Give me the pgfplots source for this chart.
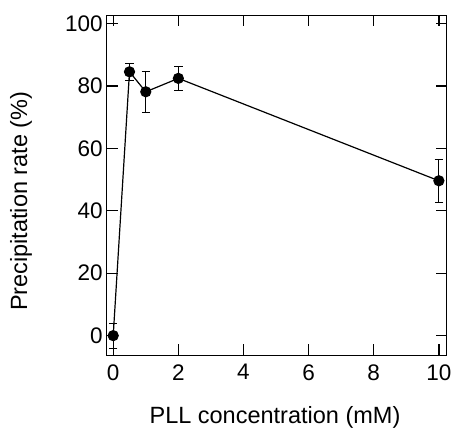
\documentclass[border=0pt]{standalone}
\usepackage{pgfplots}
\pgfplotsset{compat=1.18}
\usepackage{fontspec}
\setmainfont{Liberation Sans}
\begin{document}
\begin{tikzpicture}
\begin{axis}[
  scale only axis, width=340pt, height=340pt,
  xmin=-0.2, xmax=10.24, ymin=-6.3, ymax=102.6,
  xtick={0,2,4,6,8,10}, ytick={0,20,40,60,80,100},
  tick align=inside, major tick length=11pt,
  axis line style={line width=1.4pt},
  every tick/.style={black, line width=1.3pt},
  tick label style={font=\fontsize{22.5}{26}\selectfont},
  xticklabel style={yshift=-5.5pt},
  yticklabel style={xshift=-0.5pt},
  label style={font=\fontsize{23.5}{28}\selectfont},
  /pgf/number format/assume math mode=true,
  xlabel={PLL concentration (mM)},
  ylabel={Precipitation rate (\%)},
  xlabel style={at={(axis description cs:0.495,-0.2)}, anchor=base},
  ylabel style={at={(axis description cs:-0.2344,0.453)}, anchor=base},
  clip=false,
]
\addplot[black, line width=1.2pt, mark=*, mark size=5pt,
  error bars/.cd, y dir=both, y explicit,
  error bar style={line width=1.2pt},
  error mark options={rotate=90, mark size=4.2pt, line width=1.2pt}]
coordinates {
  (0,0) +- (0,4)
  (0.5,84.5) +- (0,2.7)
  (1,78.1) +- (0,6.6)
  (2,82.4) +- (0,3.8)
  (10,49.6) +- (0,6.9)
};
\coordinate (bl) at (rel axis cs:0,0);
\coordinate (tr) at (rel axis cs:1,1);
\end{axis}
\pgfresetboundingbox
\path[use as bounding box] ([shift={(-106.7pt,-73.7pt)}]bl) rectangle ([shift={(7.3pt,15.3pt)}]tr);
\end{tikzpicture}
\end{document}
